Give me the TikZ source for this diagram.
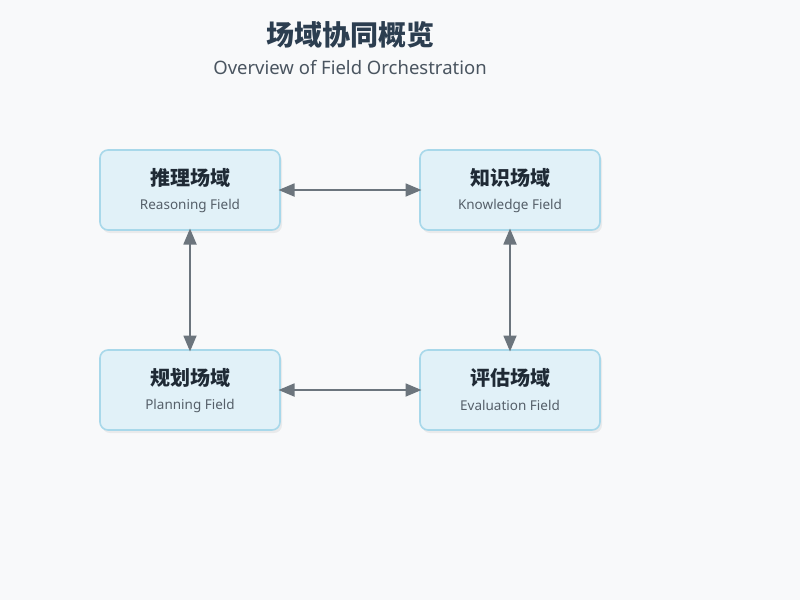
\documentclass[tikz,border=0pt]{standalone}
\usepackage{fontspec}
\setmainfont{Noto Sans}
\newfontfamily\cjk{Noto Sans CJK SC}
\usetikzlibrary{shadows,arrows.meta}
\definecolor{bg}{HTML}{F8F9FA}
\definecolor{boxfill}{HTML}{E1F1F8}
\definecolor{boxline}{HTML}{A8D8EA}
\definecolor{titlec}{HTML}{2C3E50}
\definecolor{subc}{HTML}{4A5560}
\definecolor{cjkc}{HTML}{1F2A35}
\definecolor{enc}{HTML}{555F69}
\definecolor{arrc}{HTML}{6C757D}
\tikzset{
  field/.style={draw=boxline, fill=boxfill, line width=1.6pt, rounded corners=8pt,
    minimum width=180pt, minimum height=80pt, inner sep=0pt, outer sep=0pt,
    drop shadow={opacity=0.12, shadow xshift=2pt, shadow yshift=-3pt}},
  cjklabel/.style={font=\cjk\bfseries\fontsize{20}{23}\selectfont, text=cjkc},
  enlabel/.style={font=\fontsize{13.5}{16}\selectfont, text=enc},
  link/.style={draw=arrc, line width=1.8pt, {Triangle[length=16pt,width=13pt]}-{Triangle[length=16pt,width=13pt]}, shorten <=-1.5pt, shorten >=-1.5pt}
}
\begin{document}
\begin{tikzpicture}[x=1pt,y=-1pt]
\fill[bg] (0,0) rectangle (800,600);
\useasboundingbox (0,0) rectangle (800,600);
\node[font=\cjk\bfseries\fontsize{28}{32}\selectfont, text=titlec] (title) at (350,35) {场域协同概览};
\node[font=\fontsize{18.5}{22}\selectfont, text=subc] (subtitle) at (350,68) {Overview of Field Orchestration};

\node[field] (reason) at (190,190) {};
\node[field] (know) at (510,190) {};
\node[field] (plan) at (190,390) {};
\node[field] (eval) at (510,390) {};

\node[cjklabel] (reasonc) at (190,178) {推理场域};
\node[enlabel] (reasone) at (190,205.5) {Reasoning Field};
\node[cjklabel] (knowc) at (510,178) {知识场域};
\node[enlabel] (knowe) at (510,205.5) {Knowledge Field};
\node[cjklabel] (planc) at (190,378) {规划场域};
\node[enlabel] (plane) at (190,405.5) {Planning Field};
\node[cjklabel] (evalc) at (510,378) {评估场域};
\node[enlabel] (evale) at (510,405.5) {Evaluation Field};

\draw[link] (reason.east) -- (know.west);
\draw[link] (plan.east) -- (eval.west);
\draw[link] (reason.south) -- (plan.north);
\draw[link] (know.south) -- (eval.north);
\end{tikzpicture}
\end{document}
